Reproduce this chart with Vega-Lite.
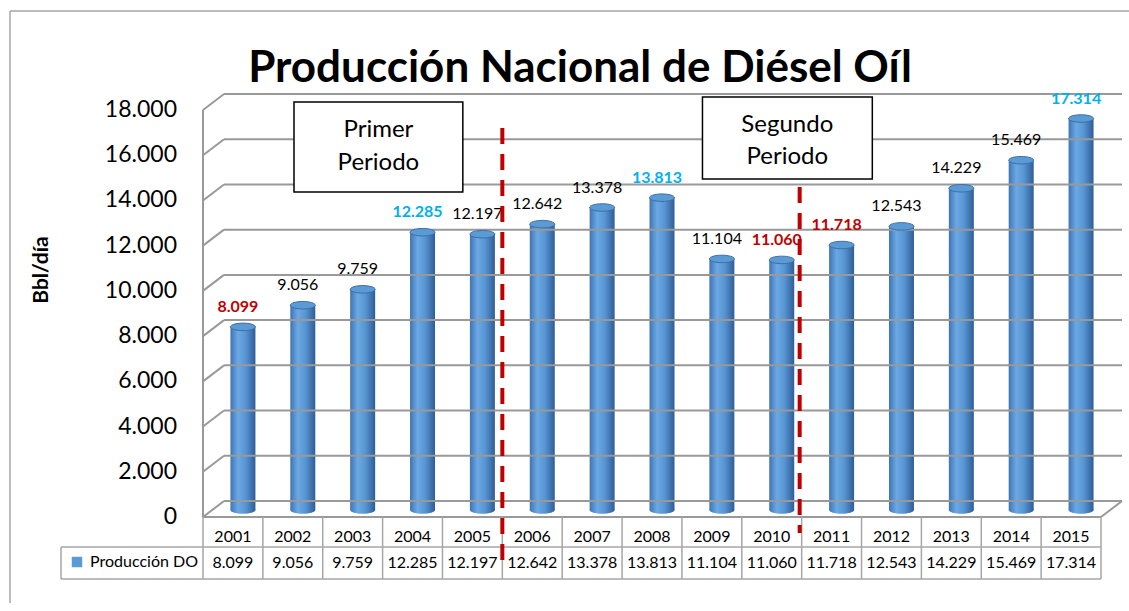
{
  "$schema": "https://vega.github.io/schema/vega-lite/v6.json",
  "width": 898,
  "height": 407,
  "autosize": {"type": "none"},
  "padding": {"left": 203, "top": 110, "right": 28, "bottom": 86},
  "background": "white",
  "config": {
    "view": {"stroke": null},
    "font": "Lato",
    "locale": {"number": {"decimal": ",", "thousands": ".", "grouping": [3], "currency": ["$", ""]}}
  },
  "title": {
    "text": "Producción Nacional de Diésel Oíl",
    "font": "Lato",
    "fontSize": 44,
    "fontWeight": "bold",
    "color": "black",
    "anchor": "middle",
    "frame": "group",
    "dx": -72,
    "offset": -116,
    "baseline": "alphabetic"
  },
  "datasets": {
    "prod": [
      {"year": "2001", "value": 8099, "periodo": 1},
      {"year": "2002", "value": 9056, "periodo": 1},
      {"year": "2003", "value": 9759, "periodo": 1},
      {"year": "2004", "value": 12285, "periodo": 1},
      {"year": "2005", "value": 12197, "periodo": 1},
      {"year": "2006", "value": 12642, "periodo": 2},
      {"year": "2007", "value": 13378, "periodo": 2},
      {"year": "2008", "value": 13813, "periodo": 2},
      {"year": "2009", "value": 11104, "periodo": 2},
      {"year": "2010", "value": 11060, "periodo": 2},
      {"year": "2011", "value": 11718, "periodo": 3},
      {"year": "2012", "value": 12543, "periodo": 3},
      {"year": "2013", "value": 14229, "periodo": 3},
      {"year": "2014", "value": 15469, "periodo": 3},
      {"year": "2015", "value": 17314, "periodo": 3}
    ],
    "grid": [
      {"v": 0}, {"v": 2000}, {"v": 4000}, {"v": 6000}, {"v": 8000},
      {"v": 10000}, {"v": 12000}, {"v": 14000}, {"v": 16000}, {"v": 18000}
    ],
    "one": [{}]
  },
  "data": {"name": "prod"},
  "layer": [
    {
      "mark": {
        "type": "bar",
        "width": 25,
        "xOffset": 10,
        "yOffset": -7,
        "y2Offset": -7,
        "fill": {
          "gradient": "linear", "x1": 0, "x2": 1, "y1": 0, "y2": 0,
          "stops": [
            {"offset": 0, "color": "#3F74B3"},
            {"offset": 0.3, "color": "#6BA8E4"},
            {"offset": 0.6, "color": "#5896D3"},
            {"offset": 1, "color": "#2F5D96"}
          ]
        }
      },
      "encoding": {
        "x": {
          "field": "year", "type": "nominal",
          "scale": {"domain": ["2001","2002","2003","2004","2005","2006","2007","2008","2009","2010","2011","2012","2013","2014","2015"], "paddingInner": 0, "paddingOuter": 0},
          "axis": null
        },
        "y": {
          "field": "value", "type": "quantitative",
          "scale": {"domain": [0, 18000], "nice": false},
          "axis": null
        }
      }
    },
    {
      "data": {"name": "one"},
      "mark": {"type": "rule", "color": "#A6A6A6", "strokeWidth": 1.5, "xOffset": -193, "x2Offset": 40, "yOffset": -99},
      "encoding": {
        "x": {"datum": "2001", "bandPosition": 0, "axis": null},
        "x2": {"datum": "2015", "bandPosition": 1},
        "y": {"datum": 18000, "axis": null}
      }
    },
    {
      "data": {"name": "one"},
      "mark": {"type": "rule", "color": "#A6A6A6", "strokeWidth": 1.5, "xOffset": -193, "yOffset": -99, "y2Offset": 120},
      "encoding": {
        "x": {"datum": "2001", "bandPosition": 0, "axis": null},
        "y": {"datum": 18000, "axis": null},
        "y2": {"datum": 0}
      }
    },
    {
      "data": {"name": "grid"},
      "mark": {"type": "rule", "color": "#999999", "strokeWidth": 2, "xOffset": 21, "x2Offset": 21, "yOffset": -16},
      "encoding": {
        "x": {"datum": "2001", "bandPosition": 0, "axis": null},
        "x2": {"datum": "2015", "bandPosition": 1},
        "y": {"field": "v", "type": "quantitative", "axis": null}
      }
    },
    {
      "data": {"name": "grid"},
      "mark": {"type": "rule", "color": "#999999", "strokeWidth": 2, "x2Offset": 21, "y2Offset": -16},
      "encoding": {
        "x": {"datum": "2001", "bandPosition": 0, "axis": null},
        "x2": {"datum": "2001", "bandPosition": 0},
        "y": {"field": "v", "type": "quantitative", "axis": null},
        "y2": {"field": "v"}
      }
    },
    {
      "data": {"name": "grid"},
      "mark": {"type": "text", "font": "Lato", "fontSize": 23, "color": "black", "align": "right", "baseline": "middle", "xOffset": -26},
      "encoding": {
        "x": {"datum": "2001", "bandPosition": 0, "axis": null},
        "y": {"field": "v", "type": "quantitative", "axis": null},
        "text": {"field": "v", "type": "quantitative", "format": ",d"}
      }
    },
    {
      "data": {"name": "one"},
      "mark": {"type": "text", "font": "Lato", "fontSize": 21, "fontWeight": "bold", "color": "black", "align": "center", "baseline": "middle", "angle": 270, "xOffset": -161, "text": "Bbl/día"},
      "encoding": {
        "x": {"datum": "2001", "bandPosition": 0, "axis": null},
        "y": {"datum": 10924, "axis": null}
      }
    },
    {
      "data": {"name": "one"},
      "mark": {"type": "rule", "color": "#999999", "strokeWidth": 2},
      "encoding": {
        "x": {"datum": "2001", "bandPosition": 0, "axis": null},
        "y": {"datum": 0, "axis": null},
        "y2": {"datum": 18000}
      }
    },
    {
      "data": {"name": "one"},
      "mark": {"type": "rule", "color": "#999999", "strokeWidth": 2},
      "encoding": {
        "x": {"datum": "2001", "bandPosition": 0, "axis": null},
        "x2": {"datum": "2015", "bandPosition": 1},
        "y": {"datum": 0, "axis": null}
      }
    },
    {
      "data": {"name": "one"},
      "mark": {"type": "rule", "color": "#999999", "strokeWidth": 2, "x2Offset": 21, "y2Offset": -16},
      "encoding": {
        "x": {"datum": "2015", "bandPosition": 1, "axis": null},
        "x2": {"datum": "2015", "bandPosition": 1},
        "y": {"datum": 0, "axis": null},
        "y2": {"datum": 0}
      }
    },
    {
      "mark": {"type": "rule", "color": "#A6A6A6", "strokeWidth": 1.5, "y2Offset": 62},
      "encoding": {
        "x": {"field": "year", "type": "nominal", "bandPosition": 0, "axis": null},
        "y": {"datum": 0, "axis": null},
        "y2": {"datum": 0}
      }
    },
    {
      "data": {"name": "one"},
      "mark": {"type": "rule", "color": "#A6A6A6", "strokeWidth": 1.5, "y2Offset": 62},
      "encoding": {
        "x": {"datum": "2015", "bandPosition": 1, "axis": null},
        "y": {"datum": 0, "axis": null},
        "y2": {"datum": 0}
      }
    },
    {
      "data": {"name": "one"},
      "mark": {"type": "rule", "color": "#A6A6A6", "strokeWidth": 1.5, "xOffset": -142, "yOffset": 30},
      "encoding": {
        "x": {"datum": "2001", "bandPosition": 0, "axis": null},
        "x2": {"datum": "2015", "bandPosition": 1},
        "y": {"datum": 0, "axis": null}
      }
    },
    {
      "data": {"name": "one"},
      "mark": {"type": "rule", "color": "#A6A6A6", "strokeWidth": 1.5, "xOffset": -142, "yOffset": 62},
      "encoding": {
        "x": {"datum": "2001", "bandPosition": 0, "axis": null},
        "x2": {"datum": "2015", "bandPosition": 1},
        "y": {"datum": 0, "axis": null}
      }
    },
    {
      "data": {"name": "one"},
      "mark": {"type": "rule", "color": "#A6A6A6", "strokeWidth": 1.5, "xOffset": -142, "yOffset": 30, "y2Offset": 62},
      "encoding": {
        "x": {"datum": "2001", "bandPosition": 0, "axis": null},
        "y": {"datum": 0, "axis": null},
        "y2": {"datum": 0}
      }
    },
    {
      "mark": {
        "type": "point", "filled": true, "size": 625, "xOffset": 10, "yOffset": -7, "strokeWidth": 0, "opacity": 1,
        "shape": "M-1,0A1,0.3,0,1,0,1,0A1,0.3,0,1,0,-1,0Z",
        "fill": {
          "gradient": "linear", "x1": 0, "x2": 1, "y1": 0, "y2": 0,
          "stops": [
            {"offset": 0, "color": "#3F74B3"},
            {"offset": 0.3, "color": "#6BA8E4"},
            {"offset": 0.6, "color": "#5896D3"},
            {"offset": 1, "color": "#2F5D96"}
          ]
        }
      },
      "encoding": {
        "x": {"field": "year", "type": "nominal", "axis": null},
        "y": {"datum": 0, "axis": null}
      }
    },
    {
      "mark": {
        "type": "point", "filled": true, "size": 625, "xOffset": 10, "yOffset": -7, "opacity": 1,
        "stroke": "#3D6EA8", "strokeWidth": 1,
        "shape": "M-1,0A1,0.3,0,1,0,1,0A1,0.3,0,1,0,-1,0Z"
      },
      "encoding": {
        "x": {"field": "year", "type": "nominal", "axis": null},
        "y": {"field": "value", "type": "quantitative", "axis": null},
        "color": {
          "datum": "Producción DO",
          "scale": {"range": ["#5B9BD5"]},
          "legend": {
            "orient": "none", "legendX": -134, "legendY": 444, "title": null,
            "symbolType": "square", "symbolSize": 110, "symbolStrokeWidth": 0, "symbolOpacity": 1,
            "labelFont": "Lato", "labelFontSize": 16, "labelColor": "black", "labelOffset": 5, "padding": 0
          }
        }
      }
    },
    {
      "transform": [
        {"joinaggregate": [{"op": "min", "field": "value", "as": "pmin"}, {"op": "max", "field": "value", "as": "pmax"}], "groupby": ["periodo"]},
        {"filter": "datum.value != datum.pmin && datum.value != datum.pmax"}
      ],
      "mark": {"type": "text", "font": "Lato", "fontSize": 16, "color": "black", "xOffset": 5, "yOffset": -27, "baseline": "middle"},
      "encoding": {
        "x": {"field": "year", "type": "nominal", "axis": null},
        "y": {"field": "value", "type": "quantitative", "axis": null},
        "text": {"field": "value", "type": "quantitative", "format": ",d"}
      }
    },
    {
      "transform": [
        {"joinaggregate": [{"op": "min", "field": "value", "as": "pmin"}, {"op": "max", "field": "value", "as": "pmax"}], "groupby": ["periodo"]},
        {"filter": "datum.value == datum.pmin || datum.value == datum.pmax"}
      ],
      "mark": {"type": "text", "font": "Lato", "fontSize": 16, "fontWeight": "bold", "xOffset": 5, "yOffset": -27, "baseline": "middle"},
      "encoding": {
        "x": {"field": "year", "type": "nominal", "axis": null},
        "y": {"field": "value", "type": "quantitative", "axis": null},
        "text": {"field": "value", "type": "quantitative", "format": ",d"},
        "color": {"condition": {"test": "datum.value == datum.pmax", "value": "#00B0F0"}, "value": "#C00000"}
      }
    },
    {
      "mark": {"type": "text", "font": "Lato", "fontSize": 16, "color": "black", "yOffset": 20, "baseline": "middle"},
      "encoding": {
        "x": {"field": "year", "type": "nominal", "axis": null},
        "y": {"datum": 0, "axis": null},
        "text": {"field": "year", "type": "nominal"}
      }
    },
    {
      "mark": {"type": "text", "font": "Lato", "fontSize": 16, "color": "black", "yOffset": 46, "baseline": "middle"},
      "encoding": {
        "x": {"field": "year", "type": "nominal", "axis": null},
        "y": {"datum": 0, "axis": null},
        "text": {"field": "value", "type": "quantitative", "format": ",d"}
      }
    },
    {
      "data": {"name": "one"},
      "mark": {"type": "rule", "color": "#C00000", "strokeWidth": 4, "strokeDash": [16, 10], "y2Offset": 43},
      "encoding": {
        "x": {"datum": "2006", "bandPosition": 0, "axis": null},
        "y": {"datum": 17200, "axis": null},
        "y2": {"datum": 0}
      }
    },
    {
      "data": {"name": "one"},
      "mark": {"type": "rule", "color": "#C00000", "strokeWidth": 4, "strokeDash": [16, 10], "xOffset": -2, "y2Offset": 16},
      "encoding": {
        "x": {"datum": "2011", "bandPosition": 0, "axis": null},
        "y": {"datum": 14600, "axis": null},
        "y2": {"datum": 0}
      }
    },
    {
      "data": {"name": "one"},
      "mark": {"type": "rect", "fill": "white", "stroke": "black", "strokeWidth": 1.5},
      "encoding": {
        "x": {"datum": "2002", "bandPosition": 0.52, "axis": null},
        "x2": {"datum": "2005", "bandPosition": 0.34},
        "y": {"datum": 18354, "axis": null},
        "y2": {"datum": 14373}
      }
    },
    {
      "data": {"name": "one"},
      "mark": {"type": "rect", "fill": "white", "stroke": "black", "strokeWidth": 1.5},
      "encoding": {
        "x": {"datum": "2009", "bandPosition": 0.343, "axis": null},
        "x2": {"datum": "2012", "bandPosition": 0.18},
        "y": {"datum": 18575, "axis": null},
        "y2": {"datum": 14948}
      }
    },
    {
      "data": {"name": "one"},
      "mark": {"type": "text", "font": "Lato", "fontSize": 24, "fontWeight": "normal", "color": "black", "lineHeight": 33, "align": "center", "baseline": "middle", "text": ["Primer", "Periodo"]},
      "encoding": {
        "x": {"datum": "2003", "bandPosition": 0.93, "axis": null},
        "y": {"datum": 17115, "axis": null}
      }
    },
    {
      "data": {"name": "one"},
      "mark": {"type": "text", "font": "Lato", "fontSize": 24, "fontWeight": "normal", "color": "black", "lineHeight": 32, "align": "center", "baseline": "middle", "text": ["Segundo", "Periodo"]},
      "encoding": {
        "x": {"datum": "2010", "bandPosition": 0.76, "axis": null},
        "y": {"datum": 17336, "axis": null}
      }
    }
  ]
}
